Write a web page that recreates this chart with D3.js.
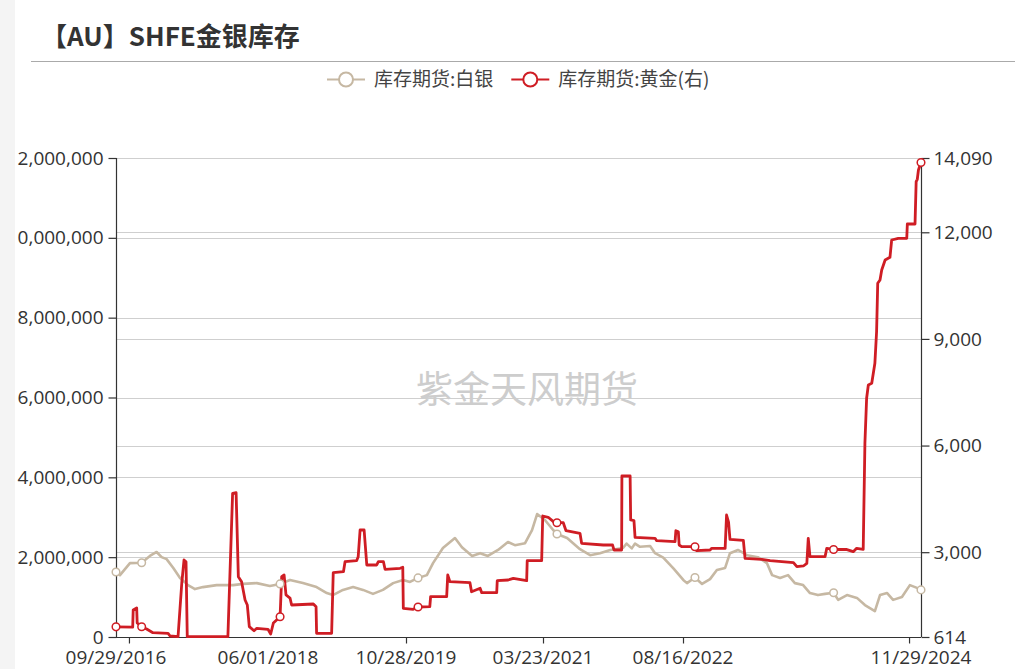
<!DOCTYPE html>
<html><head><meta charset="utf-8">
<script src="https://cdn.jsdelivr.net/npm/d3@7"></script>
<style>
html,body{margin:0;padding:0;background:#fff;}
svg{display:block;}
</style></head><body>
<svg id="chart" width="1015" height="669"></svg>
<script>
const title = "【AU】SHFE金银库存";
const watermark = "紫金天风期货";
const seriesNames = ["库存期货:白银", "库存期货:黄金(右)"];
const seriesColors = ["#c6b8a3", "#cf1d24"];

const silverDates = ["2016-09-29","2016-10-15","2016-11-24","2017-01-10","2017-02-12","2017-03-11","2017-03-31","2017-04-20","2017-05-17","2017-06-13","2017-07-15","2017-08-12","2017-09-13","2017-11-07","2018-01-12","2018-02-21","2018-04-17","2018-06-08","2018-07-16","2018-08-22","2018-10-09","2018-11-29","2019-01-06","2019-01-29","2019-03-07","2019-04-14","2019-05-21","2019-06-27","2019-08-03","2019-09-10","2019-10-17","2019-11-12","2019-12-12","2020-01-14","2020-02-06","2020-03-14","2020-04-28","2020-05-24","2020-07-01","2020-07-31","2020-08-29","2020-10-06","2020-11-12","2020-12-08","2021-01-15","2021-02-10","2021-03-01","2021-03-30","2021-04-29","2021-05-13","2021-06-19","2021-08-05","2021-09-11","2021-10-17","2021-11-23","2022-01-09","2022-01-22","2022-02-10","2022-02-22","2022-03-12","2022-04-18","2022-05-06","2022-06-05","2022-07-12","2022-08-17","2022-08-30","2022-09-27","2022-10-22","2022-11-19","2022-12-13","2023-01-11","2023-01-28","2023-02-25","2023-03-29","2023-05-06","2023-06-07","2023-06-25","2023-07-23","2023-08-20","2023-09-13","2023-10-12","2023-11-05","2023-12-03","2023-12-28","2024-01-27","2024-02-12","2024-03-14","2024-04-18","2024-05-16","2024-06-20","2024-07-08","2024-08-02","2024-08-23","2024-09-23","2024-10-21","2024-11-15","2024-11-29"];
const silverValues = [1630000,1550000,1850000,1860000,2030000,2130000,2000000,1950000,1730000,1480000,1300000,1200000,1250000,1300000,1300000,1330000,1350000,1280000,1330000,1430000,1350000,1250000,1100000,1050000,1180000,1250000,1180000,1080000,1180000,1350000,1430000,1380000,1480000,1550000,1850000,2230000,2480000,2250000,2030000,2100000,2030000,2180000,2380000,2300000,2350000,2680000,3080000,2930000,2680000,2580000,2480000,2200000,2050000,2100000,2180000,2230000,2340000,2220000,2340000,2260000,2280000,2100000,1990000,1720000,1430000,1350000,1490000,1330000,1450000,1680000,1730000,2100000,2180000,2050000,2000000,1850000,1550000,1480000,1550000,1350000,1300000,1100000,1050000,1080000,1110000,930000,1050000,980000,800000,650000,1050000,1100000,930000,1000000,1300000,1230000,1180000];

const goldDates = ["2016-09-29","2016-12-05","2016-12-07","2016-12-21","2016-12-23","2017-01-10","2017-01-30","2017-02-24","2017-04-26","2017-05-04","2017-06-05","2017-06-20","2017-06-29","2017-07-07","2017-07-12","2017-12-22","2018-01-10","2018-01-24","2018-02-02","2018-02-15","2018-03-01","2018-03-10","2018-03-18","2018-04-06","2018-04-17","2018-06-01","2018-06-11","2018-06-21","2018-07-03","2018-07-16","2018-07-22","2018-07-31","2018-08-07","2018-08-22","2018-08-28","2018-11-17","2018-11-27","2018-11-29","2019-01-24","2019-01-30","2019-03-09","2019-03-15","2019-04-27","2019-05-03","2019-05-10","2019-05-25","2019-06-04","2019-07-11","2019-07-17","2019-08-05","2019-08-11","2019-10-06","2019-10-16","2019-10-18","2019-11-24","2019-12-12","2020-01-25","2020-01-28","2020-03-28","2020-04-01","2020-04-09","2020-06-23","2020-06-29","2020-07-31","2020-08-06","2020-10-01","2020-10-03","2020-11-13","2020-12-02","2021-01-21","2021-01-23","2021-03-18","2021-03-22","2021-04-11","2021-04-30","2021-05-13","2021-06-05","2021-06-15","2021-08-05","2021-08-11","2021-10-29","2021-12-02","2021-12-07","2022-01-04","2022-01-05","2022-02-04","2022-02-06","2022-02-18","2022-02-22","2022-05-06","2022-05-12","2022-07-18","2022-07-21","2022-07-30","2022-08-02","2022-08-11","2022-09-27","2022-10-03","2022-11-19","2022-11-25","2023-01-11","2023-01-16","2023-01-23","2023-01-28","2023-03-16","2023-03-22","2023-05-19","2023-06-18","2023-09-08","2023-09-20","2023-10-13","2023-10-25","2023-10-30","2023-11-05","2023-12-28","2024-01-03","2024-01-27","2024-03-11","2024-04-05","2024-04-17","2024-05-10","2024-05-16","2024-05-22","2024-05-28","2024-06-09","2024-06-20","2024-06-26","2024-06-30","2024-07-08","2024-07-14","2024-07-26","2024-08-12","2024-08-18","2024-09-10","2024-10-10","2024-10-12","2024-11-08","2024-11-12","2024-11-16","2024-11-20","2024-11-29"];
const goldValues = [900,890,1374,1430,1008,904,839,735,718,642,623,2133,2780,2732,623,623,4657,4674,2311,2170,1655,1514,904,791,859,831,698,1008,1092,1185,2311,2358,1796,1711,1514,1542,1466,718,718,2423,2451,2732,2761,2873,3624,3624,2640,2640,2732,2732,2519,2547,2575,1421,1393,1458,1466,1748,1748,2358,2170,2142,1888,1984,1860,1860,2198,2218,2265,2198,2761,2761,4018,3982,3858,3830,3830,3605,3531,3250,3202,3202,3062,3062,5144,5144,3906,3886,3419,3391,3323,3295,3605,3576,3202,3155,3155,3042,3062,3109,3109,4046,3849,3363,3335,2828,2800,2761,2704,2592,2612,2687,3391,2873,2873,3109,3076,3081,3014,3109,3081,6064,7330,7704,7752,8314,9203,10565,10658,10939,11221,11297,11783,11831,11831,12233,12233,13424,13491,13753,13964];

const markerDates = ["2016-09-29","2017-01-10","2018-07-16","2019-12-12","2021-05-13","2022-09-27","2024-01-27","2024-11-29"];
const xLabelDates = ["2016-09-29","2018-06-01","2019-10-28","2021-03-23","2022-08-16","2024-11-29"];
const xTickDates = ["2016-11-20","2019-10-28","2021-03-23","2022-08-16","2024-10-18"];
const leftTicks = [0, 2000000, 4000000, 6000000, 8000000, 10000000, 12000000];
const rightTicks = [614, 3000, 6000, 9000, 12000, 14090];

const parse = d3.timeParse("%Y-%m-%d");
const fmtDate = d3.timeFormat("%m/%d/%Y");
const fmtNum = d3.format(",");
const numFont = "'Open Sans','Noto Sans CJK SC',sans-serif";
const cjkFont = "'Noto Sans CJK SC','Open Sans',sans-serif";
const tickFontSize = 19;

const plot = {left: 116, right: 921, top: 158, bottom: 637};

const x = d3.scaleTime()
  .domain(xLabelDates.map(parse))
  .range([116, 268, 406, 543, 683, 921]);
const yL = d3.scaleLinear().domain([0, 12000000]).range([plot.bottom, plot.top]);
const yR = d3.scaleLinear().domain([614, 14090]).range([plot.bottom, plot.top]);

const silver = silverDates.map((d, i) => ({date: parse(d), value: silverValues[i], key: d}));
const gold = goldDates.map((d, i) => ({date: parse(d), value: goldValues[i], key: d}));
const markerSet = new Set(markerDates);

const svg = d3.select("#chart");
svg.append("rect").attr("width", 1015).attr("height", 669).attr("fill", "#fff");

// gridlines
const grid = svg.append("g").attr("stroke", "#cfcfcf").attr("stroke-width", 1);
leftTicks.filter(t => t > 0).forEach(t => {
  const yy = Math.round(yL(t)) + 0.5;
  grid.append("line").attr("x1", plot.left).attr("x2", plot.right).attr("y1", yy).attr("y2", yy);
});
rightTicks.filter(t => t > 614).forEach(t => {
  const yy = Math.round(yR(t)) + 0.5;
  grid.append("line").attr("x1", plot.left).attr("x2", plot.right).attr("y1", yy).attr("y2", yy);
});

// watermark
svg.append("text").attr("x", 527).attr("y", 403).attr("text-anchor", "middle")
  .attr("font-family", cjkFont).attr("font-size", 37).attr("fill", "#cdcdcd")
  .text(watermark);

// axes
const axisColor = "#333";
const leftAxis = svg.append("g").attr("transform", `translate(${plot.left + 0.5},0)`)
  .call(d3.axisLeft(yL).tickValues(leftTicks).tickFormat(fmtNum).tickSize(8).tickPadding(5));
const rightAxis = svg.append("g").attr("transform", `translate(${plot.right + 0.5},0)`)
  .call(d3.axisRight(yR).tickValues(rightTicks).tickFormat(fmtNum).tickSize(8).tickPadding(4));
const bottomAxis = svg.append("g").attr("transform", `translate(0,${plot.bottom + 0.5})`)
  .call(d3.axisBottom(x).tickValues(xTickDates.map(parse)).tickFormat("").tickSize(6));
[leftAxis, rightAxis, bottomAxis].forEach(g => {
  g.select(".domain").attr("stroke", axisColor).attr("stroke-width", 1.2);
  g.selectAll(".tick line").attr("stroke", axisColor).attr("stroke-width", 1.2);
  g.selectAll("text").attr("font-family", numFont).attr("font-size", tickFontSize).attr("fill", "#333");
});
bottomAxis.select(".domain").attr("d", `M${plot.left},0H${plot.right}`);
leftAxis.select(".domain").attr("d", `M0,${plot.bottom}V${plot.top}`);
rightAxis.select(".domain").attr("d", `M0,${plot.bottom}V${plot.top}`);

// x labels
svg.append("g").selectAll("text").data(xLabelDates).join("text")
  .attr("x", d => x(parse(d))).attr("y", 664).attr("text-anchor", "middle")
  .attr("font-family", numFont).attr("font-size", tickFontSize).attr("fill", "#333")
  .text(d => fmtDate(parse(d)));

// lines
const silverLine = d3.line().x(d => x(d.date)).y(d => yL(d.value));
const goldLine = d3.line().x(d => x(d.date)).y(d => yR(d.value));
svg.append("path").datum(silver).attr("d", silverLine).attr("fill", "none")
  .attr("stroke", seriesColors[0]).attr("stroke-width", 2.6).attr("stroke-linejoin", "round");
svg.append("path").datum(gold).attr("d", goldLine).attr("fill", "none")
  .attr("stroke", seriesColors[1]).attr("stroke-width", 2.8).attr("stroke-linejoin", "round");

// markers
svg.append("g").selectAll("circle").data(silver.filter(d => markerSet.has(d.key))).join("circle")
  .attr("cx", d => x(d.date)).attr("cy", d => yL(d.value)).attr("r", 3.8)
  .attr("fill", "#fff").attr("stroke", seriesColors[0]).attr("stroke-width", 1.5);
svg.append("g").selectAll("circle").data(gold.filter(d => markerSet.has(d.key))).join("circle")
  .attr("cx", d => x(d.date)).attr("cy", d => yR(d.value)).attr("r", 3.8)
  .attr("fill", "#fff").attr("stroke", seriesColors[1]).attr("stroke-width", 1.5);

// legend
const legend = svg.append("g");
let lx = 327;
seriesNames.forEach((name, i) => {
  const g = legend.append("g");
  g.append("line").attr("x1", lx).attr("x2", lx + 38).attr("y1", 79.5).attr("y2", 79.5)
    .attr("stroke", seriesColors[i]).attr("stroke-width", 2);
  g.append("circle").attr("cx", lx + 19).attr("cy", 79.5).attr("r", 7)
    .attr("fill", "#fff").attr("stroke", seriesColors[i]).attr("stroke-width", 2);
  const t = g.append("text").attr("x", lx + 47).attr("y", 86).attr("font-family", cjkFont)
    .attr("font-size", 19).attr("fill", "#444").text(name);
  lx = lx + 47 + t.node().getComputedTextLength() + 18;
});

// title & separator
svg.append("text").attr("x", 41).attr("y", 46).attr("font-family", cjkFont)
  .attr("font-size", 26).attr("font-weight", "bold").attr("fill", "#333").text(title);
svg.append("line").attr("x1", 31).attr("x2", 1015).attr("y1", 61.5).attr("y2", 61.5)
  .attr("stroke", "#aaa").attr("stroke-width", 1);

// left grey strip
svg.append("rect").attr("x", 0).attr("y", 0).attr("width", 15).attr("height", 669).attr("fill", "#f4f4f4");
</script>
</body></html>
